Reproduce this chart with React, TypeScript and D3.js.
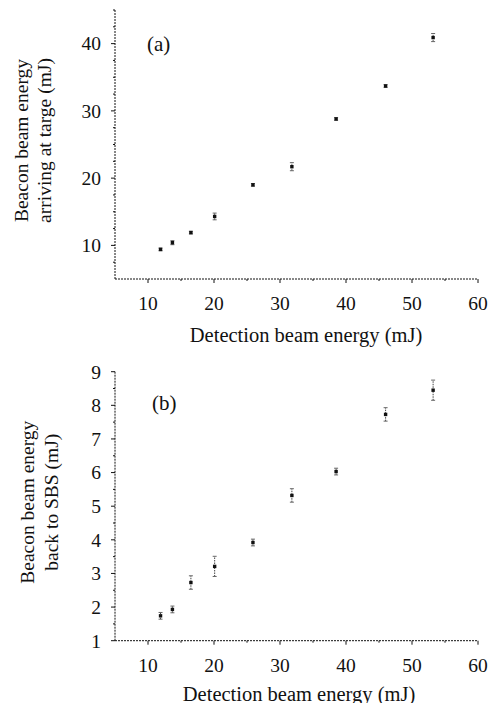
import React from "react";
import * as d3 from "d3";

const detection = [11.9, 13.7, 16.5, 20.1, 25.9, 31.8, 38.5, 46.0, 53.2];
const arriving = [9.4, 10.4, 11.9, 14.3, 19.0, 21.7, 28.8, 33.7, 40.9];
const arrivingErr = [0.2, 0.3, 0.2, 0.5, 0.2, 0.6, 0.2, 0.2, 0.6];
const backSBS = [1.74, 1.93, 2.73, 3.21, 3.92, 5.32, 6.03, 7.73, 8.45];
const backErr = [0.1, 0.1, 0.2, 0.3, 0.1, 0.2, 0.1, 0.2, 0.3];
const xTicks = [10, 20, 30, 40, 50, 60];
const xMinor = [15, 25, 35, 45, 55];
const yTicksA = [10, 20, 30, 40];
const yMinorA = [7.5, 12.5, 15, 17.5, 22.5, 25, 27.5, 32.5, 35, 37.5, 42.5, 45];
const yTicksB = [1, 2, 3, 4, 5, 6, 7, 8, 9];
const yMinorB = [1.5, 2.5, 3.5, 4.5, 5.5, 6.5, 7.5, 8.5];

const FONT = "\"Liberation Serif\", \"Times New Roman\", serif";
const INK = "#111";
const ts = { fontFamily: FONT };

type PanelProps = {
  ys: number[];
  errs: number[];
  yDomain: [number, number];
  yRange: [number, number];
  yTicks: number[];
  yMinor: number[];
  tag: string;
  tagPos: [number, number];
  titleLines: string[];
  titleX: [number, number];
  xTitleY: number;
  xTitleX: number;
};

function Panel(p: PanelProps) {
  const x = d3.scaleLinear().domain([5, 60]).range([115, 478]);
  const y = d3.scaleLinear().domain(p.yDomain).range(p.yRange);
  const y0 = p.yRange[0];
  const yTop = p.yRange[1];
  const titleCy = (p.yRange[0] + p.yRange[1]) / 2 - 4;
  return (
    <g fill={INK}>
      <line x1={115} x2={115} y1={y0} y2={yTop} stroke={INK} strokeWidth={1} strokeDasharray="2,1" />
      <line x1={115} x2={478} y1={y0} y2={y0} stroke={INK} strokeWidth={1} strokeDasharray="2,1" />
      {p.yTicks.map((t) => (
        <g key={"yt" + t}>
          <line x1={111} x2={115} y1={y(t)} y2={y(t)} stroke={INK} />
          <text x={101} y={y(t)} dy="0.35em" textAnchor="end" fontSize={19.5} style={ts}>{t}</text>
        </g>
      ))}
      {p.yMinor.map((t) => (
        <line key={"ym" + t} x1={113} x2={115} y1={y(t)} y2={y(t)} stroke={INK} />
      ))}
      {xTicks.map((t) => (
        <g key={"xt" + t}>
          <line x1={x(t)} x2={x(t)} y1={y0} y2={y0 + 4} stroke={INK} />
          <text x={x(t)} y={y0 + 31} textAnchor="middle" fontSize={19.5} style={ts}>{t}</text>
        </g>
      ))}
      {xMinor.map((t) => (
        <line key={"xm" + t} x1={x(t)} x2={x(t)} y1={y0} y2={y0 + 2} stroke={INK} />
      ))}
      {detection.map((xv, i) => {
        const cx = x(xv);
        const cy = y(p.ys[i]);
        const lo = y(p.ys[i] - p.errs[i]);
        const hi = y(p.ys[i] + p.errs[i]);
        return (
          <g key={"pt" + i}>
            <line x1={cx} x2={cx} y1={lo} y2={hi} stroke="#444" strokeWidth={1} strokeDasharray="1.5,1" />
            <line x1={cx - 2} x2={cx + 2} y1={lo} y2={lo} stroke="#666" strokeWidth={1} />
            <line x1={cx - 2} x2={cx + 2} y1={hi} y2={hi} stroke="#666" strokeWidth={1} />
            <rect x={cx - 1.7} y={cy - 1.7} width={3.4} height={3.4} fill={INK} />
          </g>
        );
      })}
      <text x={p.tagPos[0]} y={p.tagPos[1]} dy="0.35em" fontSize={21} style={ts}>{p.tag}</text>
      {p.titleLines.map((ln, i) => (
        <text
          key={"tl" + i}
          transform={`translate(${p.titleX[i]},${titleCy}) rotate(-90)`}
          textAnchor="middle"
          dy="0.35em"
          fontSize={19.5}
          style={ts}
        >
          {ln}
        </text>
      ))}
      <text x={p.xTitleX} y={p.xTitleY} dy="0.35em" textAnchor="middle" fontSize={20.5} style={ts}>
        Detection beam energy (mJ)
      </text>
    </g>
  );
}

export default function App() {
  return (
    <svg
      width={491}
      height={703}
      style={{ position: "absolute", left: 0, top: 0, background: "#fff" }}
    >
      <rect width={491} height={703} fill="#fff" />
      <Panel
        ys={arriving}
        errs={arrivingErr}
        yDomain={[5, 45]}
        yRange={[279, 10]}
        yTicks={yTicksA}
        yMinor={yMinorA}
        tag="(a)"
        tagPos={[147, 44]}
        titleLines={["Beacon beam energy", "arriving at targe (mJ)"]}
        titleX={[21, 44]}
        xTitleY={335}
        xTitleX={306}
      />
      <Panel
        ys={backSBS}
        errs={backErr}
        yDomain={[1, 9]}
        yRange={[640.7, 371.7]}
        yTicks={yTicksB}
        yMinor={yMinorB}
        tag="(b)"
        tagPos={[152, 403]}
        titleLines={["Beacon beam energy", "back to SBS (mJ)"]}
        titleX={[27, 51]}
        xTitleY={694}
        xTitleX={299}
      />
    </svg>
  );
}
